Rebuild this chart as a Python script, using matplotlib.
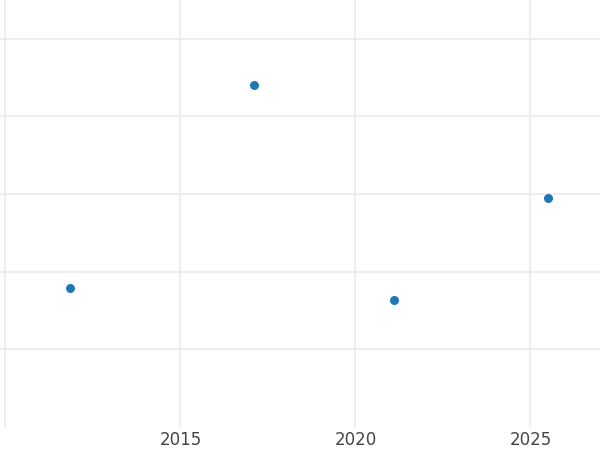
import matplotlib
matplotlib.use("Agg")
import matplotlib.pyplot as plt

years = [2011.83, 2017.11, 2021.09, 2025.51]
values = [17.9, 44.1, 16.3, 29.5]

fig = plt.figure(figsize=(6, 4.5), dpi=100)
ax = fig.add_axes([0, 1 - 427 / 450, 1, 427 / 450])

ax.scatter(years, values, s=42, color="#1f77b4", zorder=3, linewidths=0)

ax.set_xlim(2009.843, 2026.986)
ax.set_ylim(0, 55)
ax.set_xticks([2010, 2015, 2020, 2025])
ax.set_xticklabels(["", "2015", "2020", "2025"])
ax.set_yticks([10, 20, 30, 40, 50])
ax.set_yticklabels([])
ax.grid(True, color="#ebebeb", linewidth=1.2)
ax.set_axisbelow(True)
for s in ax.spines.values():
    s.set_visible(False)
ax.tick_params(length=0, labelsize=12, labelcolor="#444444", pad=3)

fig.savefig("out.png", dpi=100)
